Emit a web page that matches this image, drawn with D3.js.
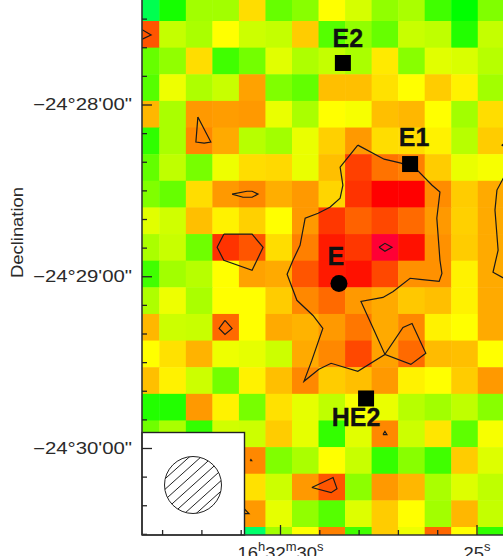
<!DOCTYPE html>
<html>
<head>
<meta charset="utf-8">
<script src="https://cdn.jsdelivr.net/npm/d3@7"></script>
<style>
  body { margin: 0; background: #fff; }
  svg { display: block; }
  text { font-family: "Liberation Sans", Arial, sans-serif; fill: #2a2a2a; }
  .fuente { font-weight: bold; fill: #111; stroke: #111; stroke-width: 0.3px; font-size: 25px; }
</style>
</head>
<body>
<div id="chart"></div>
<script>
// intensity of each map cell, 0 = green, 60 = yellow, 120 = red (null = hidden by the beam inset)
const mapRows = [
  [-15, 5, 38, 38, 68, 24, 32, 60, 50, 34, 40, 15, 0, 30],
  [100, 46, 40, 60, 48, 46, 72, 20, 34, 24, 47, 45, 8, 46],
  [24, 34, 68, 15, 27, 53, 41, 46, 40, 65, 32, 53, 51, 43],
  [20, 56, 41, 47, 82, 30, 23, 75, 75, 67, 60, 72, 63, 38],
  [77, 40, 84, 83, 84, 55, 40, 60, 58, 75, 77, 60, 38, 68],
  [11, 40, 88, 80, 43, 38, 55, 71, 84, 68, 68, 63, 43, 72],
  [23, 45, 28, 56, 68, 69, 55, 75, 105, 93, 90, 72, 55, 58],
  [30, 24, 68, 84, 88, 79, 84, 70, 108, 120, 120, 87, 72, 80],
  [53, 49, 75, 63, 71, 60, 84, 107, 97, 103, 95, 84, 71, 80],
  [40, 47, 26, 108, 100, 68, 90, 114, 107, 130, 116, 86, 72, 80],
  [15, 38, 43, 60, 82, 80, 100, 114, 116, 103, 86, 86, 63, 80],
  [41, 56, 40, 60, 60, 72, 88, 95, 84, 80, 73, 75, 63, 80],
  [77, 48, 47, 95, 60, 80, 78, 84, 92, 80, 88, 63, 60, 80],
  [60, 67, 78, 56, 54, 48, 80, 88, 103, 82, 95, 76, 75, 60],
  [75, 63, 48, 27, 63, 75, 88, 72, 75, 84, 63, 60, 72, 84],
  [8, 8, 84, 63, 28, 67, 54, 45, 58, 55, 43, 38, 45, 32],
  [26, 40, 12, 49, 48, 72, 54, 12, 53, 88, 48, 66, 22, 58],
  [null, null, null, null, 88, 30, 40, 60, 47, 12, 32, 15, 72, 52],
  [null, null, null, null, 67, 48, 84, 100, 33, 84, 77, 40, 52, 45],
  [null, null, null, null, 84, 54, 34, 20, 52, 72, 60, 38, 77, 46],
  [null, null, null, null, -20, 38, 60, 90, 15, 72, 56, 96, 60, 11]
];

// contours as [RA seconds past 16h32m, Dec arcsec past -24 deg]
const contourMain = [[28.02,1694.2],[27.35,1699.1],[26.92,1700.5],[26.51,1702.9],[26.13,1708.2],[25.93,1710.6],[26.01,1719.7],[25.93,1734.4],[25.88,1739.0],[25.95,1741.8],[26.44,1741.1],[26.69,1740.7],[27.12,1745.3],[27.38,1747.4],[27.94,1748.8],[27.63,1758.2],[27.33,1767.3],[26.87,1757.9],[26.64,1756.5],[26.29,1766.9],[26.67,1770.8],[27.33,1767.3],[28.02,1773.2],[28.70,1770.4],[29.01,1772.5],[29.39,1776.7],[29.19,1769.4],[28.91,1758.2],[29.16,1753.7],[29.57,1748.4],[29.82,1739.3],[29.67,1734.4],[29.49,1729.2],[29.36,1719.7],[29.03,1718.0],[28.73,1715.9],[28.47,1712.7],[28.40,1708.2],[28.47,1701.9],[28.02,1694.2]];
const contourTriangle = [[32.09,1684.4],[31.76,1693.1],[31.93,1693.5],[32.14,1693.1],[32.09,1684.4]];
const contourEdgeLeft = [[33.54,1653.6],[33.28,1655.7],[33.54,1657.4]];
const contourEye = [[31.22,1711.3],[30.84,1710.3],[30.71,1710.3],[30.56,1711.3],[30.71,1712.4],[30.94,1712.4],[31.22,1711.3]];
const contourPentagon = [[31.43,1725.3],[30.71,1725.3],[30.43,1729.9],[30.71,1737.9],[31.43,1734.4],[31.60,1729.9],[31.43,1725.3]];
const contourDiamond = [[31.40,1755.4],[31.22,1758.2],[31.40,1760.3],[31.55,1758.2],[31.40,1755.4]];
const contourPeak = [[27.48,1729.9],[27.33,1728.5],[27.15,1729.9],[27.33,1731.3],[27.48,1729.9]];
const contourRight = [[24.25,1704.0],[24.48,1709.9],[24.53,1716.9],[24.45,1730.9],[24.58,1738.6],[24.25,1741.1]];
const contourEdgeRight = [[24.25,1693.1],[24.35,1694.2],[24.25,1695.2]];
const contourInset = [[30.94,1820.8],[30.79,1822.9],[30.94,1822.9]];
const contourLower = [[29.19,1813.8],[28.65,1810.3],[28.55,1814.2],[28.70,1815.6],[29.19,1813.8]];
const contourTiny = [[27.38,1795.3],[27.33,1794.2],[27.28,1795.3],[27.38,1795.3]];
const contourDot = [[30.76,1804.4],[30.74,1804.0],[30.72,1804.4],[30.76,1804.4]];
const contours = [contourMain, contourTriangle, contourEdgeLeft, contourEye, contourPentagon, contourDiamond, contourPeak, contourRight, contourEdgeRight, contourInset, contourLower, contourTiny, contourDot];

const sourceNames = ['E2', 'E1', 'HE2', 'E'];
const sourceRa = [28.40, 26.69, 27.81, 28.50];
const sourceDec = [1665.5, 1700.8, 1782.7, 1742.5];
const sourceShape = ['square', 'square', 'square', 'circle'];

const raMajor = [30, 25];
const raMajorLabels = [['16', 'h', '32', 'm', '30', 's'], ['25', 's']];
const raMinor = [33, 32, 31, 29, 28, 27, 26];
const decMajor = [1680, 1740, 1800];
const decMajorLabels = ['\u221224\u00b028\'00"', '\u221224\u00b029\'00"', '\u221224\u00b030\'00"'];
const decMinor = [1650, 1660, 1670, 1690, 1700, 1710, 1720, 1730, 1750, 1760, 1770, 1780, 1790, 1810, 1820, 1830];
const hatchOffsets = [-3, -2, -1, 0, 1, 2, 3];

const largura = 503, altura = 556;
const left = 142, bottom = 535;

const x = d3.scaleLinear().domain([30, 25]).range([280, 476.5]);
const y = d3.scaleLinear().domain([1680, 1800]).range([104.5, 448]);
const col = d3.scaleLinear().domain([1, 14]).range([159.3, 504.3]);
const row = d3.scaleLinear().domain([1, 20]).range([21, 527]);
const cor = d3.scaleLinear()
  .domain([-20, 0, 60, 120, 135])
  .range(['#00ff6a', '#00ff00', '#ffff00', '#ff0000', '#ff0050']);

const svg = d3.select('#chart').append('svg')
  .attr('width', largura)
  .attr('height', altura)
  .attr('viewBox', '0 0 ' + largura + ' ' + altura);

const defs = svg.append('defs');
defs.append('clipPath').attr('id', 'plot')
  .append('rect').attr('x', left).attr('y', 0).attr('width', largura - left).attr('height', bottom);
defs.append('clipPath').attr('id', 'beam')
  .append('circle').attr('cx', 193).attr('cy', 485).attr('r', 28.5);

const plot = svg.append('g').attr('clip-path', 'url(#plot)');

// map cells
mapRows.forEach((values, r) => {
  plot.append('g').selectAll('rect')
    .data(values.map((v, c) => ({ v, c })).filter(d => d.v !== null))
    .enter()
    .append('rect')
    .attr('x', d => col(d.c))
    .attr('y', row(r))
    .attr('width', d => col(d.c + 1) - col(d.c) + 0.5)
    .attr('height', row(r + 1) - row(r) + 0.5)
    .attr('fill', d => cor(d.v));
});

// contours
const contourLine = d3.line().x(d => x(d[0])).y(d => y(d[1]));
plot.append('g').selectAll('path')
  .data(contours)
  .enter()
  .append('path')
  .attr('d', contourLine)
  .attr('fill', 'none')
  .attr('stroke', '#1a1a1a')
  .attr('stroke-width', 1.2);

// sources
const sources = sourceNames.map((name, i) => ({ name, ra: sourceRa[i], dec: sourceDec[i], shape: sourceShape[i] }));
const labelOffset = { E2: [5, -16], E1: [4, -18], HE2: [-10, 28], E: [-3, -18] };

plot.selectAll('rect.source')
  .data(sources.filter(d => d.shape === 'square'))
  .enter()
  .append('rect')
  .attr('class', 'source')
  .attr('x', d => x(d.ra) - 8)
  .attr('y', d => y(d.dec) - 8)
  .attr('width', 16)
  .attr('height', 16)
  .attr('fill', '#000');

plot.selectAll('circle.source')
  .data(sources.filter(d => d.shape === 'circle'))
  .enter()
  .append('circle')
  .attr('class', 'source')
  .attr('cx', d => x(d.ra))
  .attr('cy', d => y(d.dec))
  .attr('r', 8.5)
  .attr('fill', '#000');

plot.selectAll('text.fuente')
  .data(sources)
  .enter()
  .append('text')
  .attr('class', 'fuente')
  .attr('x', d => x(d.ra) + labelOffset[d.name][0])
  .attr('y', d => y(d.dec) + labelOffset[d.name][1])
  .attr('text-anchor', 'middle')
  .text(d => d.name);

// beam inset
svg.append('rect')
  .attr('x', left).attr('y', 432.5).attr('width', 102.5).attr('height', bottom - 432.5)
  .attr('fill', '#fff').attr('stroke', '#222').attr('stroke-width', 1.4);
svg.append('g').attr('clip-path', 'url(#beam)')
  .selectAll('line')
  .data(hatchOffsets)
  .enter()
  .append('line')
  .attr('x1', d => 193 + d * 5.5 - 40)
  .attr('y1', d => 485 + d * 5.5 + 36)
  .attr('x2', d => 193 + d * 5.5 + 40)
  .attr('y2', d => 485 + d * 5.5 - 36)
  .attr('stroke', '#222')
  .attr('stroke-width', 1);
svg.append('circle')
  .attr('cx', 193).attr('cy', 485).attr('r', 28.5)
  .attr('fill', 'none').attr('stroke', '#222').attr('stroke-width', 1);

// axes, ticks pointing into the map
const axisStyle = g => {
  g.selectAll('.domain').attr('stroke', '#333').attr('stroke-width', 1.6);
  g.selectAll('.tick line').attr('stroke', '#222').attr('stroke-width', 1.3);
};

svg.append('g')
  .attr('transform', 'translate(' + left + ',0)')
  .call(d3.axisLeft(y).tickValues(decMinor).tickSize(-5).tickSizeOuter(0).tickFormat(''))
  .call(axisStyle)
  .call(g => g.select('.domain').attr('d', 'M0,0V' + bottom));

svg.append('g')
  .attr('transform', 'translate(' + left + ',0)')
  .call(d3.axisLeft(y).tickValues(decMajor).tickSize(-10).tickSizeOuter(0).tickPadding(10)
    .tickFormat((d, i) => decMajorLabels[i]))
  .call(axisStyle)
  .call(g => g.select('.domain').remove())
  .call(g => g.selectAll('text')
    .attr('font-size', 16)
    .attr('font-family', '"Liberation Sans", Arial, sans-serif')
    .attr('textLength', 99)
    .attr('lengthAdjust', 'spacingAndGlyphs')
    .attr('fill', '#2a2a2a'));

svg.append('g')
  .attr('transform', 'translate(0,' + bottom + ')')
  .call(d3.axisBottom(x).tickValues(raMinor).tickSize(-5).tickSizeOuter(0).tickFormat(''))
  .call(axisStyle)
  .call(g => g.select('.domain').attr('d', 'M' + left + ',0H' + largura));

const raAxis = svg.append('g')
  .attr('transform', 'translate(0,' + bottom + ')')
  .call(d3.axisBottom(x).tickValues(raMajor).tickSize(-10).tickSizeOuter(0).tickPadding(0).tickFormat(''))
  .call(axisStyle)
  .call(g => g.select('.domain').remove());

raAxis.selectAll('.tick').each(function (d, i) {
  const label = d3.select(this).select('text')
    .attr('y', 24)
    .attr('dy', 0)
    .attr('font-size', 17)
    .attr('font-family', '"Liberation Sans", Arial, sans-serif')
    .attr('fill', '#2a2a2a')
    .attr('textLength', i === 0 ? 86 : 27)
    .attr('lengthAdjust', 'spacingAndGlyphs');
  raMajorLabels[i].forEach((part, k) => {
    label.append('tspan')
      .attr('dy', k === 0 ? 0 : (k % 2 ? -8 : 8))
      .attr('font-size', k % 2 ? 12 : 17)
      .text(part);
  });
});

// axis title
svg.append('text')
  .attr('transform', 'translate(23,232.5) rotate(-90)')
  .attr('text-anchor', 'middle')
  .attr('font-size', 17)
  .attr('textLength', 91)
  .attr('lengthAdjust', 'spacingAndGlyphs')
  .text('Declination');
</script>
</body>
</html>
